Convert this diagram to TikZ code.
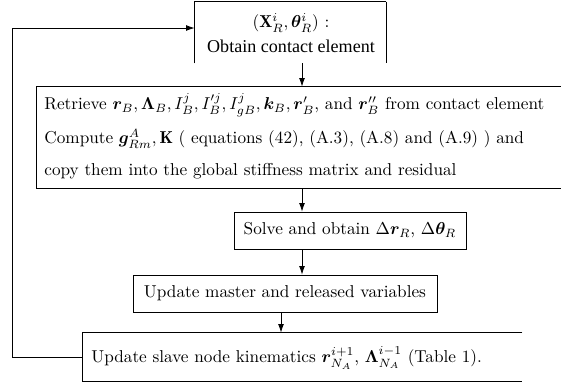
\documentclass[tikz,border=0pt]{standalone}
\usepackage{amsmath}
\usepackage{bm}
\usepackage{fontspec}
\newfontfamily\tmsfont{Liberation Serif}
\usetikzlibrary{arrows.meta}
\def\U{0.581pt}
\begin{document}
\begin{tikzpicture}[x=\U,y=-\U, line width=0.45pt,
  arr/.style={-{Latex[length=5pt,width=3.4pt]}},
  frame/.style={inner sep=0pt},
  boxed/.style={draw, inner sep=0pt}]
\useasboundingbox (0,0) rectangle (561,384);
% top box (open at the bottom)
\node[frame, minimum width=191*\U, minimum height=61*\U] (top) at (290.5,32.5) {};
\node[align=center, inner sep=0pt] (toptext) at (291,33) {$(\mathbf{X}^i_R,\bm{\theta}^i_R)$ :\\[2pt]{\tmsfont\fontsize{10.5}{12}\selectfont Obtain contact element}};
\draw (top.south west) -- (top.north west) -- (top.north east);
\draw[line width=0.9pt] (top.north east) -- (top.south east);
% big box (open at the right)
\node[frame, minimum width=524*\U, minimum height=101*\U] (big) at (299,137.5) {};
\draw (big.north east) -- (big.north west) -- (big.south west) -- (big.south east);
\node[anchor=west, inner sep=0pt] (l1) at (44,105) {Retrieve $\bm{r}_B, \bm{\Lambda}_B, I^j_B, I^{\prime j}_B, I^j_{gB}, \bm{k}_B, \bm{r}'_B$, and $\bm{r}''_B$ from contact element};
\node[anchor=west, inner sep=0pt] (l2) at (44,139) {Compute $\bm{g}^A_{Rm}, \mathbf{K}$ ( equations (42), (A.3), (A.8) and (A.9) ) and};
\node[anchor=west, inner sep=0pt] (l3) at (44,171) {copy them into the global stiffness matrix and residual};
% solve box
\node[boxed, minimum width=232*\U, minimum height=37*\U] (solve) at (350,230.5) {Solve and obtain $\Delta\bm{r}_R$, $\Delta\bm{\theta}_R$};
% update master box
\node[boxed, minimum width=304*\U, minimum height=37*\U] (upd) at (285,293.5) {Update master and released variables};
% bottom box (open at the right)
\node[frame, minimum width=439*\U, minimum height=48*\U] (slave) at (302.5,357) {};
\draw (slave.north east) -- (slave.north west) -- (slave.south west) -- (slave.south east);
\node[anchor=west, inner sep=0pt] (stext) at (91,358) {Update slave node kinematics $\bm{r}^{i+1}_{N_A}$, $\bm{\Lambda}^{i-1}_{N_A}$ (Table 1).};
% arrows
\coordinate (ax) at (302,0);
\coordinate (bx) at (281,0);
\draw[arr] (top.south -| ax) -- (big.north -| ax);
\draw[arr] (big.south -| ax) -- (solve.north -| ax);
\draw[arr] (solve.south -| ax) -- (upd.north -| ax);
\draw[arr] (upd.south -| bx) -- (slave.north -| bx);
% feedback loop
\coordinate (fb) at (12,28);
\draw[arr] (slave.west) -| (fb) -- (top.west |- fb);
\end{tikzpicture}
\end{document}
